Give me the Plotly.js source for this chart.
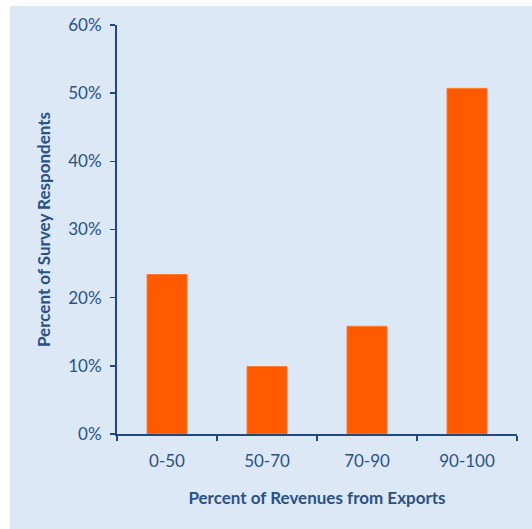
<!DOCTYPE html>
<html><head><meta charset="utf-8">
<script src="https://cdn.plot.ly/plotly-3.0.1.min.js"></script>
<style>
html,body{margin:0;padding:0;background:#ffffff;}
#chart{position:absolute;left:10px;top:6px;width:522px;height:523px;}
</style></head>
<body><div id="chart"></div>
<script>
var categories = ['0-50', '50-70', '70-90', '90-100'];
var values = [0.234, 0.099, 0.158, 0.507];
var yTickVals = [0, 0.1, 0.2, 0.3, 0.4, 0.5, 0.6];
var yTickText = ['0%', '10%', '20%', '30%', '40%', '50%', '60%'];

var axisColor = '#1f497d';
var textColor = '#2a5186';
var fontFam = 'Lato, "Open Sans", sans-serif';

var trace = {
  type: 'bar', x: categories, y: values,
  marker: {color: '#ff5a00', line: {color: '#ff7b33', width: 1}},
  hoverinfo: 'none'
};
var layout = {
  width: 522, height: 523,
  margin: {l: 107, r: 15, t: 19, b: 95},
  paper_bgcolor: '#dce8f6', plot_bgcolor: '#dce8f6',
  bargap: 0.6, showlegend: false,
  font: {family: fontFam, color: textColor, size: 17},
  xaxis: {
    type: 'category', tickson: 'boundaries', ticks: 'outside', ticklen: 5, tickwidth: 1.5,
    tickcolor: axisColor, showline: true, linecolor: axisColor, linewidth: 2,
    showgrid: false, zeroline: false, ticklabelstandoff: 11,
    tickfont: {family: fontFam, size: 17, color: textColor},
    title: {text: 'Percent of Revenues from Exports', standoff: 22,
            font: {family: fontFam, size: 17, color: textColor, weight: 'bold'}}
  },
  yaxis: {
    range: [0, 0.6], tickvals: yTickVals, ticktext: yTickText,
    ticks: 'outside', ticklen: 5, tickwidth: 1.5, tickcolor: axisColor,
    showline: true, linecolor: axisColor, linewidth: 2,
    showgrid: false, zeroline: false, ticklabelstandoff: 5,
    tickfont: {family: fontFam, size: 17, color: textColor},
    title: {text: 'Percent of Survey Respondents', standoff: 13,
            font: {family: fontFam, size: 17, color: textColor, weight: 'bold'}}
  }
};
Plotly.newPlot('chart', [trace], layout, {staticPlot: true});
</script></body></html>
